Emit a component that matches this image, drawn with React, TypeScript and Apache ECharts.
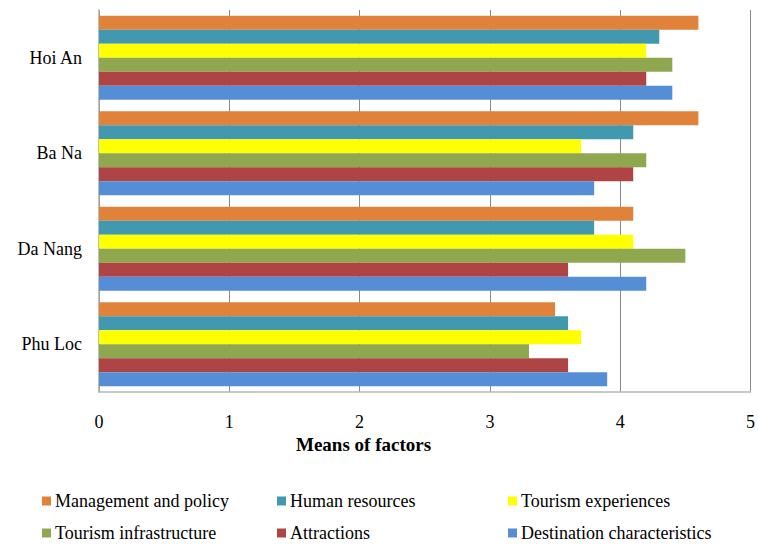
import React, { useEffect, useRef } from "react";
import * as echarts from "echarts";

const categories = ["Phu Loc", "Da Nang", "Ba Na", "Hoi An"];
const seriesNames = [
  "Management and policy",
  "Human resources",
  "Tourism experiences",
  "Tourism infrastructure",
  "Attractions",
  "Destination characteristics",
];
const managementAndPolicy = [3.5, 4.1, 4.6, 4.6];
const humanResources = [3.6, 3.8, 4.1, 4.3];
const tourismExperiences = [3.7, 4.1, 3.7, 4.2];
const tourismInfrastructure = [3.3, 4.5, 4.2, 4.4];
const attractions = [3.6, 3.6, 4.1, 4.2];
const destinationCharacteristics = [3.9, 4.2, 3.8, 4.4];
const seriesValues = [
  managementAndPolicy,
  humanResources,
  tourismExperiences,
  tourismInfrastructure,
  attractions,
  destinationCharacteristics,
];
const colors = ["#E0823A", "#4198AF", "#FFFF00", "#8FA84F", "#AE4544", "#558ED5"];
const xTicks = [0, 1, 2, 3, 4, 5];
const axisTitle = "Means of factors";

const legendLayout = [
  { name: "Management and policy", left: 42, top: 492 },
  { name: "Human resources", left: 277, top: 492 },
  { name: "Tourism experiences", left: 508, top: 492 },
  { name: "Tourism infrastructure", left: 42, top: 524 },
  { name: "Attractions", left: 277, top: 524 },
  { name: "Destination characteristics", left: 508, top: 524 },
];

const FONT = "'Liberation Serif', 'Times New Roman', serif";

export default function App() {
  const ref = useRef<HTMLDivElement>(null);
  useEffect(() => {
    if (!ref.current) return;
    const chart = echarts.init(ref.current, null, { renderer: "svg" });
    chart.setOption({
      animation: false,
      backgroundColor: "#ffffff",
      textStyle: { fontFamily: FONT, color: "#000" },
      grid: { left: 99, right: 3, top: 10, bottom: 154, containLabel: false },
      xAxis: {
        type: "value",
        min: xTicks[0],
        max: xTicks[xTicks.length - 1],
        interval: 1,
        axisLine: { show: true, lineStyle: { color: "#B8B8B8", width: 1.5 } },
        axisTick: { show: false },
        axisLabel: { fontFamily: FONT, fontSize: 18, color: "#000", margin: 21 },
        splitLine: { show: true, lineStyle: { color: "#8A8A8A", width: 1 } },
      },
      yAxis: {
        type: "category",
        data: categories,
        axisLine: { show: true, lineStyle: { color: "#A8A8A8", width: 1.5 } },
        axisTick: { show: false },
        axisLabel: { fontFamily: FONT, fontSize: 18, color: "#000", margin: 17 },
        splitLine: { show: false },
      },
      legend: legendLayout.map((l) => ({
        data: [l.name],
        left: l.left,
        top: l.top,
        padding: 0,
        icon: "rect",
        itemWidth: 9,
        itemHeight: 9,
        itemGap: 0,
        textStyle: { fontFamily: FONT, fontSize: 18, color: "#000", padding: [0, 0, 0, -1] },
      })),
      graphic: [
        {
          type: "text",
          left: 296,
          top: 435,
          style: {
            text: axisTitle,
            font: `bold 19px ${FONT}`,
            fill: "#000",
          },
        },
      ],
      series: seriesNames.map((name, i) => ({
        name,
        type: "bar",
        data: seriesValues[i],
        barGap: "0%",
        barCategoryGap: "12%",
        itemStyle: { color: colors[i] },
      })),
    });
    return () => chart.dispose();
  }, []);
  return (
    <div
      ref={ref}
      style={{ position: "fixed", left: 0, top: 0, width: 758, height: 546 }}
    />
  );
}
